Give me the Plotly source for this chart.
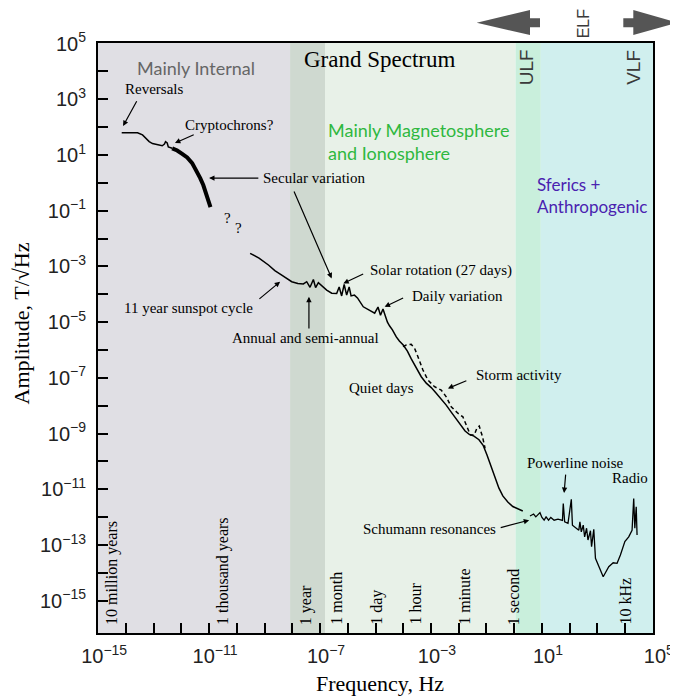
import plotly.graph_objects as go
import math

# ---------------- data: log10(frequency / Hz), log10(amplitude / T/sqrt(Hz)) ----------------
internal_logf = [-14.15, -13.58, -13.40, -13.16, -13.04, -12.93, -12.79, -12.69, -12.61, -12.57, -12.51, -12.47, -12.33]
internal_logA = [1.80, 1.80, 1.72, 1.48, 1.41, 1.39, 1.34, 1.33, 1.39, 1.48, 1.43, 1.29, 1.24]

secular_logf = [-12.33, -12.15, -11.97, -11.79, -11.61, -11.47, -11.32, -11.21, -11.11, -11.02, -10.95]
secular_logA = [1.24, 1.16, 1.04, 0.91, 0.71, 0.46, 0.17, -0.08, -0.36, -0.62, -0.87]

magneto_logf = [-9.52, -9.20, -8.86, -8.63, -8.38, -8.20, -8.02, -7.80, -7.60, -7.48, -7.36, -7.24, -7.16,
                -7.06, -6.94, -6.76, -6.58, -6.40, -6.31, -6.22, -6.13, -6.04, -5.95, -5.88, -5.76, -5.65,
                -5.44, -5.21, -5.03, -4.91, -4.82, -4.73, -4.64, -4.57, -4.49, -4.39, -4.25, -4.14, -4.00,
                -3.85, -3.71, -3.53, -3.35, -3.17, -2.99, -2.81, -2.63, -2.45, -2.27, -2.09, -1.91, -1.77,
                -1.63, -1.45, -1.27, -1.12, -0.98, -0.84, -0.69, -0.55, -0.41, -0.23, -0.05, 0.17, 0.31]
magneto_logA = [-2.53, -2.70, -2.95, -3.15, -3.31, -3.43, -3.55, -3.61, -3.63, -3.55, -3.75, -3.47, -3.76,
                -3.58, -3.70, -3.85, -3.96, -3.97, -3.74, -4.06, -3.65, -4.03, -3.74, -4.06, -4.03, -4.13,
                -4.45, -4.58, -4.68, -4.46, -4.75, -4.53, -4.85, -5.00, -5.14, -5.28, -5.53, -5.68, -5.82,
                -6.04, -6.32, -6.65, -6.96, -7.19, -7.35, -7.55, -7.76, -7.98, -8.23, -8.48, -8.73, -8.91,
                -9.02, -9.09, -9.22, -9.42, -9.77, -10.17, -10.53, -10.96, -11.24, -11.46, -11.62, -11.73, -11.78]

storm_logf = [-4.01, -3.89, -3.71, -3.59, -3.47, -3.29, -3.11, -2.87, -2.63, -2.45, -2.27, -2.03, -1.85,
              -1.70, -1.58, -1.44, -1.34, -1.26, -1.14, -1.05]
storm_logA = [-5.88, -5.82, -5.80, -5.94, -6.24, -6.72, -7.08, -7.32, -7.44, -7.68, -8.04, -8.27, -8.40,
              -8.76, -9.05, -9.05, -8.80, -8.73, -9.12, -9.53]

hf_logf = [0.57, 0.70, 0.78, 0.93, 1.00, 1.08, 1.15, 1.24, 1.32, 1.44, 1.58, 1.74, 1.77, 1.82, 1.94, 2.06,
           2.10, 2.19, 2.33, 2.37, 2.42, 2.49, 2.54, 2.61, 2.66, 2.75, 2.79, 2.87, 2.93, 3.21, 3.41, 3.57,
           3.71, 3.83, 3.99, 4.13, 4.25, 4.31, 4.35, 4.40, 4.43]
hf_logA = [-11.96, -11.89, -11.99, -11.84, -12.01, -12.11, -11.99, -12.11, -12.01, -12.11, -12.07, -12.12,
           -11.51, -12.17, -12.22, -11.36, -12.29, -12.35, -12.47, -12.17, -12.53, -12.29, -12.71, -12.40,
           -12.82, -12.49, -13.06, -12.44, -13.48, -14.14, -13.78, -13.64, -13.66, -13.36, -12.88, -12.71,
           -12.47, -11.33, -12.40, -11.63, -12.64]

# background frequency bands (log10 Hz edges)
band_edges = [-15.2, -8.08, -6.82, 0.05, 0.96, 5.2]
band_colors = ["#e0dfe4", "#cfd9d0", "#e8f1e8", "#c9efdc", "#d0efee"]

# axis ticks (exponents)
x_tick_exps = list(range(-15, 6))
x_label_exps = [-15, -11, -7, -3, 1, 5]
y_tick_exps = list(range(-15, 6))
y_label_exps = [5, 3, 1, -1, -3, -5, -7, -9, -11, -13, -15]

# period markers along the bottom
YEAR = 3.156e7
period_names = ["10 million years", "1 thousand years", "1 year", "1 month", "1 day", "1 hour",
                "1 minute", "1 second", "10 kHz"]
period_freqs = [1 / (1e7 * YEAR), 1 / (1e3 * YEAR), 1 / YEAR, 1 / (30 * 86400), 1 / 86400, 1 / 3600,
                1 / 60, 1.0, 1e4]

# ---------------- figure ----------------
fig = go.Figure()

for i, col in enumerate(band_colors):
    a, b = 10 ** band_edges[i], 10 ** band_edges[i + 1]
    fig.add_trace(go.Scatter(x=[a, b, b, a, a], y=[1e-18, 1e-18, 1e7, 1e7, 1e-18], mode="lines",
                             fill="toself", fillcolor=col, line=dict(width=0), hoverinfo="skip"))

def lin(v):
    return [10 ** t for t in v]

fig.add_trace(go.Scatter(x=lin(internal_logf), y=lin(internal_logA), mode="lines",
                         line=dict(color="black", width=1.5)))
fig.add_trace(go.Scatter(x=lin(secular_logf), y=lin(secular_logA), mode="lines",
                         line=dict(color="black", width=4)))
fig.add_trace(go.Scatter(x=lin(storm_logf), y=lin(storm_logA), mode="lines",
                         line=dict(color="black", width=1.5, dash="4px,3px")))
fig.add_trace(go.Scatter(x=lin(magneto_logf), y=lin(magneto_logA), mode="lines",
                         line=dict(color="black", width=1.5)))
fig.add_trace(go.Scatter(x=lin(hf_logf), y=lin(hf_logA), mode="lines",
                         line=dict(color="black", width=1.3)))

SERIF = "Liberation Serif, Times New Roman, serif"
SANS = "Liberation Sans, Arial, sans-serif"
HUM = "Lato, Noto Sans, sans-serif"

ann = []
labels = [
    ("Reversals", -12.97, 3.37), ("Cryptochrons?", -10.28, 2.08), ("Secular variation", -7.19, 0.17),
    ("?", -10.35, -1.26), ("?", -9.93, -1.62), ("11 year sunspot cycle", -11.75, -4.49),
    ("Annual and semi-annual", -7.52, -5.57), ("Solar rotation (27 days)", -2.63, -3.13),
    ("Daily variation", -2.06, -4.06), ("Storm activity", 0.17, -6.90), ("Quiet days", -4.79, -7.37),
    ("Powerline noise", 2.21, -10.06), ("Radio", 4.19, -10.60), ("Schumann resonances", -3.06, -12.43),
]
for t, x, y in labels:
    ann.append(dict(text=t, x=x, y=y, xref="x", yref="y", showarrow=False,
                    font=dict(family=SERIF, size=15, color="#000000")))

arrows = [
    (-13.58, 2.98, -14.10, 2.04), (-11.50, 1.75, -12.23, 1.43), (-9.17, 0.17, -11.00, 0.17),
    (-7.96, -0.26, -6.58, -3.43), (-9.24, -4.21, -8.44, -3.55), (-7.40, -5.28, -7.40, -4.09),
    (-5.39, -3.25, -6.16, -3.61), (-3.95, -4.11, -4.67, -4.45), (-1.67, -7.08, -2.39, -7.38),
    (1.86, -10.42, 1.80, -11.13), (-0.54, -12.39, 0.54, -12.11),
]
for tx, ty, hx, hy in arrows:
    ann.append(dict(text="", x=hx, y=hy, ax=tx, ay=ty, xref="x", yref="y", axref="x", ayref="y",
                    showarrow=True, arrowhead=2, arrowsize=0.9, arrowwidth=1.2, arrowcolor="black",
                    standoff=0, startstandoff=0))

ann.append(dict(text="Mainly Internal", x=-11.47, y=4.12, xref="x", yref="y", showarrow=False,
                font=dict(family=HUM, size=18, color="#666666")))
ann.append(dict(text="Grand Spectrum", x=-4.86, y=4.41, xref="x", yref="y", showarrow=False,
                font=dict(family=SERIF, size=23, color="black")))
ann.append(dict(text="Mainly Magnetosphere<br>and Ionosphere", x=-6.80, y=1.49, xref="x", yref="y",
                xanchor="left", align="left", showarrow=False,
                font=dict(family=HUM, size=18, color="#2fb83f")))
ann.append(dict(text="Sferics +<br>Anthropogenic", x=0.74, y=-0.47, xref="x", yref="y",
                xanchor="left", align="left", showarrow=False,
                font=dict(family=HUM, size=17, color="#4a22b0")))

for name, f in zip(period_names, period_freqs):
    ann.append(dict(text=name, x=math.log10(f), y=-15.80, xref="x", yref="y", yanchor="bottom",
                    xanchor="center", textangle=-90, yshift=-4, showarrow=False,
                    font=dict(family=SERIF, size=16, color="black")))

# page has an 8px body margin: plot area placed so it lands at screen x 98..653, y 43..633
OFF = 8
L, T, W, H = 98 - OFF, 43 - OFF, 555, 590
def px(x):  # screen pixel -> paper
    return (x - OFF - L) / W
def py(y):
    return (T + H - (y - OFF)) / H

for t, x, y, s in [("ULF", 526.7, 67.5, 19), ("ELF", 583.3, 23.0, 16), ("VLF", 633.3, 67.5, 19)]:
    ann.append(dict(text=t, x=px(x), y=py(y), xref="paper", yref="paper", textangle=-90,
                    xanchor="center", yanchor="middle",
                    showarrow=False, font=dict(family=SANS, size=s, color="#3a3a3a")))

ann.append(dict(text="Amplitude, T/√Hz", x=px(21), y=py(323.5), xref="paper", yref="paper",
                xanchor="center", yanchor="middle",
                textangle=-90, showarrow=False, font=dict(family=SERIF, size=22, color="black")))
ann.append(dict(text="Frequency, Hz", x=px(380), y=py(683), xref="paper", yref="paper",
                xanchor="center", yanchor="middle",
                showarrow=False, font=dict(family=SERIF, size=22, color="black")))

def poly(pts):
    return "M " + " L ".join(f"{px(a):.5f},{py(b):.5f}" for a, b in pts) + " Z"

left_arrow = [(476.7, 22.7), (530, 10), (530, 18.3), (540, 18.3), (540, 27.3), (530, 27.3), (530, 35)]
right_arrow = [(677.5, 22.7), (633.3, 10), (633.3, 18.3), (623.3, 18.3), (623.3, 27.3), (633.3, 27.3), (633.3, 35)]
shapes = [dict(type="path", path=poly(p), xref="paper", yref="paper", fillcolor="#555555",
               line=dict(width=0)) for p in (left_arrow, right_arrow)]

def sup(e):
    return "10<sup>" + (str(e) if e >= 0 else "\u2212" + str(-e)) + "</sup>"

fig.update_layout(
    width=678, height=699, margin=dict(l=L, r=678 - L - W, t=T, b=699 - T - H, autoexpand=False),
    paper_bgcolor="white", plot_bgcolor="white", showlegend=False,
    annotations=ann, shapes=shapes,
    xaxis=dict(type="log", range=[-15.005, 5.005], showgrid=False, zeroline=False, automargin=False,
               showline=True, linecolor="black", linewidth=2, mirror=True,
               ticks="inside", ticklen=10, tickwidth=2, tickcolor="black",
               tickvals=[10 ** e for e in x_tick_exps],
               ticktext=[sup(e) if e in x_label_exps else "" for e in x_tick_exps],
               tickfont=dict(family=SANS, size=20, color="#222222"), ticklabelstandoff=4,
               ticklabelshift=6),
    yaxis=dict(type="log", range=[-16.16, 5.02], showgrid=False, zeroline=False, automargin=False,
               showline=True, linecolor="black", linewidth=2, mirror=True,
               ticks="inside", ticklen=10, tickwidth=2, tickcolor="black",
               tickvals=[10 ** e for e in y_tick_exps],
               ticktext=[sup(e) if e in y_label_exps else "" for e in y_tick_exps],
               tickfont=dict(family=SANS, size=20, color="#222222"), ticklabelstandoff=6),
)

fig.write_html("out.html")
